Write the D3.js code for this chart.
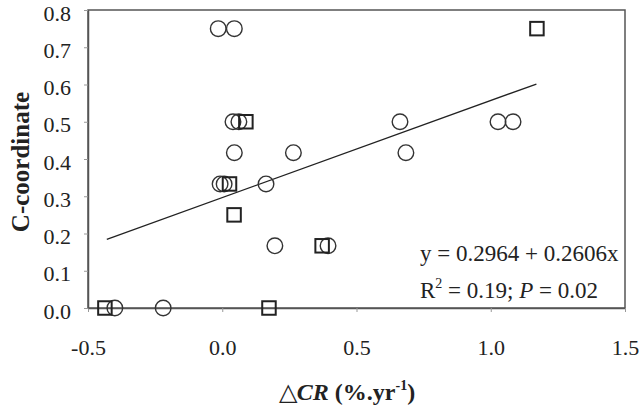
<!DOCTYPE html>
<html>
<head>
<meta charset="utf-8">
<script src="https://cdn.jsdelivr.net/npm/d3@7"></script>
<style>
  body { margin: 0; background: #fff; }
  svg { display: block; }
  text { font-family: "Liberation Serif", "Times New Roman", serif; fill: #222; }
</style>
</head>
<body>
<div id="chart"></div>
<script>
// open circles
const circleX = [-0.40, -0.22, -0.015, 0.045, 0.04, 0.062, 0.045, 0.265, -0.008, 0.007, 0.163, 0.196, 0.394, 0.662, 1.027, 1.083, 0.684];
const circleY = [0, 0, 0.75, 0.75, 0.5, 0.5, 0.417, 0.417, 0.333, 0.333, 0.333, 0.167, 0.167, 0.5, 0.5, 0.5, 0.417];
// open squares
const squareX = [-0.437, 0.174, 0.044, 0.027, 0.088, 0.372, 1.172];
const squareY = [0, 0, 0.25, 0.333, 0.5, 0.167, 0.75];
// fitted line y = a + b x
const fitIntercept = 0.2964;
const fitSlope = 0.2606;
const fitRange = [-0.43, 1.17];

const xTicks = [-0.5, 0, 0.5, 1.0, 1.5];
const yTicks = [0, 0.1, 0.2, 0.3, 0.4, 0.5, 0.6, 0.7, 0.8];

const width = 642, height = 408;
const margin = {top: 10, right: 17, bottom: 100, left: 88};

const svg = d3.select("#chart").append("svg")
  .attr("width", width)
  .attr("height", height);

const x = d3.scaleLinear().domain([-0.5, 1.5]).range([margin.left, width - margin.right]);
const y = d3.scaleLinear().domain([0, 0.8]).range([height - margin.bottom, margin.top]);

const frameColor = "#555";
const fmt = d => d3.format(".1f")(d).replace("\u2212", "-");

// frame
svg.append("rect")
  .attr("x", x(-0.5))
  .attr("y", y(0.8))
  .attr("width", x(1.5) - x(-0.5))
  .attr("height", y(0) - y(0.8))
  .attr("fill", "none")
  .attr("stroke", frameColor)
  .attr("stroke-width", 1.5);

const xAxis = svg.append("g")
  .attr("transform", `translate(0,${y(0)})`)
  .call(d3.axisBottom(x).tickValues(xTicks).tickFormat(fmt).tickSize(4).tickSizeOuter(0).tickPadding(27));

const yAxis = svg.append("g")
  .attr("transform", `translate(${x(-0.5)},0)`)
  .call(d3.axisLeft(y).tickValues(yTicks).tickFormat(fmt).tickSize(4).tickSizeOuter(0).tickPadding(13));

[xAxis, yAxis].forEach(g => {
  g.select(".domain").attr("stroke", frameColor).attr("stroke-width", 1.5);
  g.selectAll(".tick line").attr("stroke", "#999");
  g.selectAll(".tick text")
    .attr("font-family", "Liberation Serif")
    .attr("font-size", 22)
    .attr("fill", "#222");
});
// labels sit slightly below their ticks in the original
yAxis.selectAll(".tick text").attr("dy", "0.46em");

// regression line
svg.append("line")
  .attr("x1", x(fitRange[0]))
  .attr("y1", y(fitIntercept + fitSlope * fitRange[0]))
  .attr("x2", x(fitRange[1]))
  .attr("y2", y(fitIntercept + fitSlope * fitRange[1]))
  .attr("stroke", "#222")
  .attr("stroke-width", 1.3);

// circles
svg.append("g").selectAll("circle")
  .data(d3.zip(circleX, circleY))
  .join("circle")
  .attr("cx", d => x(d[0]))
  .attr("cy", d => y(d[1]))
  .attr("r", 7.8)
  .attr("fill", "none")
  .attr("stroke", "#333")
  .attr("stroke-width", 1.4);

// squares
const sq = 13.5;
svg.append("g").selectAll("rect")
  .data(d3.zip(squareX, squareY))
  .join("rect")
  .attr("x", d => x(d[0]) - sq / 2)
  .attr("y", d => y(d[1]) - sq / 2)
  .attr("width", sq)
  .attr("height", sq)
  .attr("fill", "none")
  .attr("stroke", "#222")
  .attr("stroke-width", 2);

// equation text
const eq = svg.append("g").attr("font-size", 23);
eq.append("text")
  .attr("x", 420).attr("y", 261)
  .text("y = 0.2964 + 0.2606x");
const r2 = eq.append("text").attr("x", 420).attr("y", 298);
r2.append("tspan").text("R");
r2.append("tspan").attr("font-size", 14).attr("dy", -10).text("2");
r2.append("tspan").attr("dy", 10).text(" = 0.19; ");
r2.append("tspan").attr("font-style", "italic").text("P");
r2.append("tspan").text("  = 0.02");

// y axis title
svg.append("text")
  .attr("transform", `translate(29,${(y(0) + y(0.8)) / 2 + 3}) rotate(-90)`)
  .attr("text-anchor", "middle")
  .attr("font-weight", "bold")
  .attr("font-size", 25)
  .text("C-coordinate");

// x axis title
const xt = svg.append("text")
  .attr("x", 347).attr("y", 400)
  .attr("text-anchor", "middle")
  .attr("font-weight", "bold")
  .attr("font-size", 24);
xt.append("tspan").attr("font-weight", "normal").text("\u25B3");
xt.append("tspan").attr("font-style", "italic").text("CR");
xt.append("tspan").text(" (%.yr");
xt.append("tspan").attr("font-size", 14).attr("dy", -10).text("-1");
xt.append("tspan").attr("dy", 10).text(")");
</script>
</body>
</html>
